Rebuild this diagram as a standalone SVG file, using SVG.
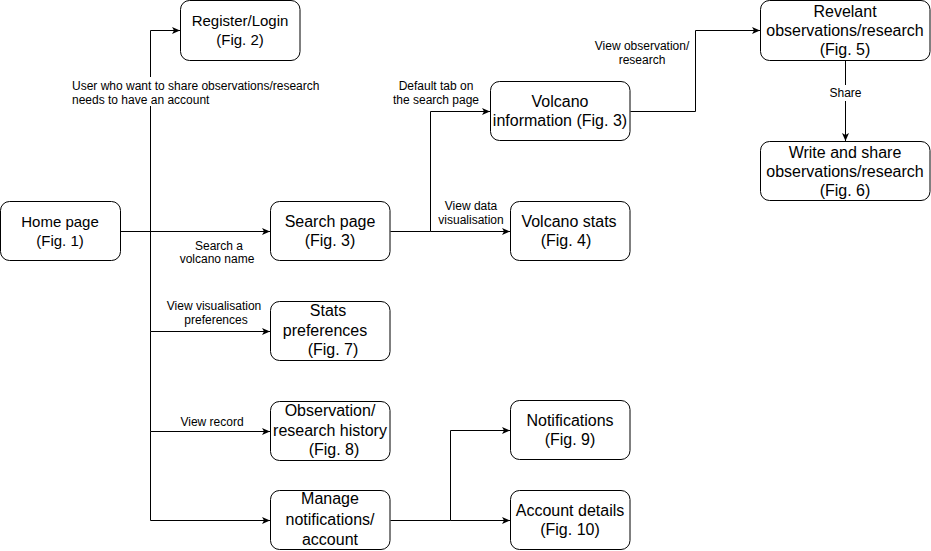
<svg xmlns="http://www.w3.org/2000/svg" width="931" height="551" viewBox="0 0 931 551">
<defs>
<marker id="arr" markerUnits="userSpaceOnUse" markerWidth="9" markerHeight="8" refX="8" refY="4" orient="auto">
<path d="M0,0.5 L8,4 L0,7.5 L2,4 Z" fill="#000"/>
</marker>
<style>
.box{fill:#fff;stroke:#000;stroke-width:1}
.t{font-family:"Liberation Sans",Arial,Helvetica,sans-serif;font-size:16px;fill:#000;text-anchor:middle}
.s15{font-size:15px}
.e{fill:none;stroke:#000;stroke-width:1;marker-end:url(#arr)}
.lb{font-family:"Liberation Sans",Arial,Helvetica,sans-serif;font-size:12px;fill:#000;text-anchor:middle}
.bg{fill:#fff}
</style>
</defs>
<rect width="931" height="551" fill="#fff"/>
<g id="connectors">
<path class="e" d="M120.5,231.5 H150.5 V30.5 H180"/>
<path class="e" d="M120.5,231.5 H270"/>
<path class="e" d="M150.5,231.5 V331.5 H270"/>
<path class="e" d="M150.5,331.5 V431.5 H270"/>
<path class="e" d="M150.5,431.5 V520.5 H270"/>
<path class="e" d="M390.5,231.5 H430.5 V111.5 H490"/>
<path class="e" d="M430.5,231.5 H510"/>
<path class="e" d="M630.5,111.5 H695.5 V30.5 H760"/>
<path class="e" d="M845.5,60.5 V141"/>
<path class="e" d="M390.5,520.5 H450.5 V430.5 H510"/>
<path class="e" d="M450.5,520.5 H510"/>
<rect class="bg" x="70" y="77" width="254" height="29"/>
<text class="lb" style="text-anchor:start" x="72" y="89.5">User who want to share observations/research</text>
<text class="lb" style="text-anchor:start" x="72" y="103.5">needs to have an account</text>
<text class="lb" x="219" y="249.5">Search a</text>
<text class="lb" x="217" y="263">volcano name</text>
<text class="lb" x="436" y="89.5">Default tab on</text>
<text class="lb" x="436" y="103.5">the search page</text>
<text class="lb" x="471" y="209.5">View data</text>
<text class="lb" x="471" y="223.5">visualisation</text>
<text class="lb" x="642" y="49.5">View observation/</text>
<text class="lb" x="642" y="63.5">research</text>
<rect class="bg" x="822" y="85" width="46" height="16"/>
<text class="lb" x="845.5" y="97">Share</text>
<text class="lb" x="214" y="309.5">View visualisation</text>
<text class="lb" x="216" y="323.5">preferences</text>
<text class="lb" x="212" y="426">View record</text>
</g>
<g id="home">
<rect class="box" x="0.5" y="201.5" width="120" height="59" rx="9"/>
<text class="t s15" x="60" y="226.5">Home page</text>
<text class="t s15" x="60" y="245.5">(Fig. 1)</text>
</g>
<g id="register">
<rect class="box" x="180.5" y="0.5" width="119.5" height="60" rx="9"/>
<text class="t s15" x="240" y="26">Register/Login</text>
<text class="t s15" x="240" y="45">(Fig. 2)</text>
</g>
<g id="search">
<rect class="box" x="270.5" y="201.5" width="119.5" height="59" rx="9"/>
<text class="t" x="330" y="226.5">Search page</text>
<text class="t" x="330" y="245.5">(Fig. 3)</text>
</g>
<g id="volcano-info">
<rect class="box" x="490.5" y="81.5" width="139.5" height="59" rx="9"/>
<text class="t" x="560" y="106.5">Volcano</text>
<text class="t" x="560" y="125.5">information (Fig. 3)</text>
</g>
<g id="volcano-stats">
<rect class="box" x="510.5" y="201.5" width="119.5" height="59" rx="9"/>
<text class="t" x="569" y="226.5">Volcano stats</text>
<text class="t" x="566" y="245.5">(Fig. 4)</text>
</g>
<g id="relevant">
<rect class="box" x="760.5" y="0.5" width="169.5" height="60" rx="9"/>
<text class="t" x="845" y="16.5">Revelant</text>
<text class="t" x="845" y="35.5">observations/research</text>
<text class="t" x="845" y="54.5">(Fig. 5)</text>
</g>
<g id="write-share">
<rect class="box" x="760.5" y="141.5" width="169.5" height="59" rx="9"/>
<text class="t" x="845" y="157.5">Write and share</text>
<text class="t" x="845" y="176.5">observations/research</text>
<text class="t" x="845" y="195.5">(Fig. 6)</text>
</g>
<g id="stats-prefs">
<rect class="box" x="270.5" y="301.5" width="119.5" height="59" rx="9"/>
<text class="t" x="328" y="316">Stats</text>
<text class="t" x="325" y="335.5">preferences</text>
<text class="t" x="333" y="355">(Fig. 7)</text>
</g>
<g id="history">
<rect class="box" x="270.5" y="401.5" width="119.5" height="59" rx="9"/>
<text class="t" x="330" y="416">Observation/</text>
<text class="t" x="330" y="435.5">research history</text>
<text class="t" x="334" y="455">(Fig. 8)</text>
</g>
<g id="manage">
<rect class="box" x="270.5" y="490.5" width="119.5" height="59" rx="9"/>
<text class="t" x="330" y="504">Manage</text>
<text class="t" x="330" y="524.5">notifications/</text>
<text class="t" x="330" y="545">account</text>
</g>
<g id="notifications">
<rect class="box" x="510.5" y="400.5" width="119.5" height="59" rx="9"/>
<text class="t" x="570" y="425.5">Notifications</text>
<text class="t" x="570" y="444.5">(Fig. 9)</text>
</g>
<g id="account">
<rect class="box" x="510.5" y="490.5" width="119.5" height="59" rx="9"/>
<text class="t" x="570" y="515.5">Account details</text>
<text class="t" x="570" y="534.5">(Fig. 10)</text>
</g>
</svg>
